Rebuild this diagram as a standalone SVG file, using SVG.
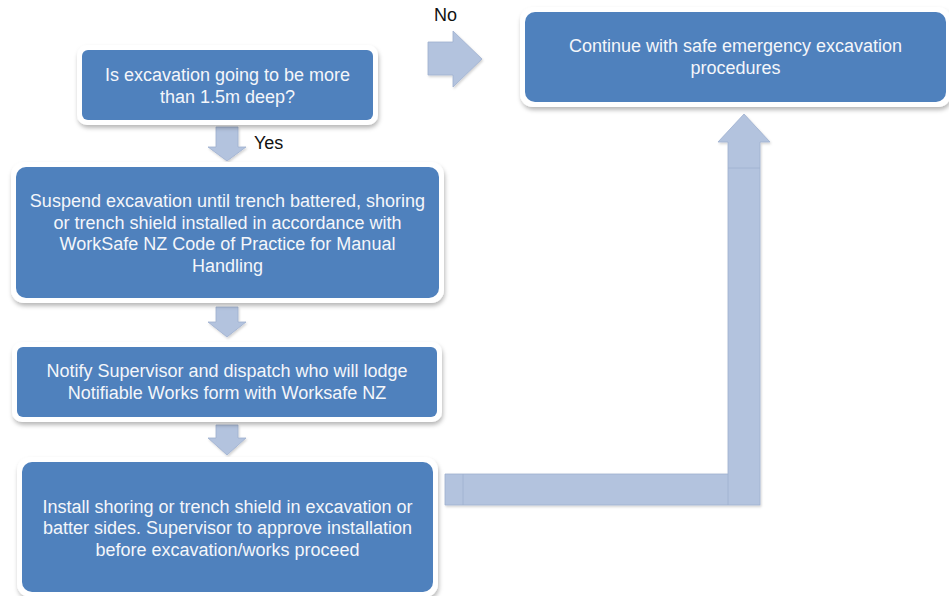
<svg xmlns="http://www.w3.org/2000/svg" width="949" height="596" viewBox="0 0 949 596">
  <style>
    .frame { fill: #ffffff; }
    .box { fill: #4f81bd; }
    .label { font-family: "Liberation Sans", Arial, sans-serif; font-size: 18px; fill: #f4f6fa; text-anchor: middle; }
    .note { font-family: "Liberation Sans", Arial, sans-serif; font-size: 18px; fill: #111111; }
    .arrow { fill: #b3c3de; stroke: #9eb0cf; stroke-width: 0.8; }
    .seam { stroke: #9eb0cf; stroke-width: 0.8; fill: none; }
  </style>
  <defs>
    <filter id="shadow" x="-10%" y="-20%" width="120%" height="150%">
      <feDropShadow dx="1" dy="3" stdDeviation="2.2" flood-color="#000000" flood-opacity="0.28"/>
    </filter>
    <filter id="softShadow" x="-10%" y="-10%" width="130%" height="130%">
      <feDropShadow dx="1" dy="1.5" stdDeviation="1.2" flood-color="#000000" flood-opacity="0.18"/>
    </filter>
  </defs>

  <rect width="949" height="596" fill="#ffffff"/>

  <!-- connectors -->
  <g id="connectors" filter="url(#softShadow)">
    <!-- No: right arrow -->
    <path class="arrow" d="M428,42 L453,42 L453,31 L482,59 L453,87 L453,75 L428,75 Z"/>
    <!-- Yes: down arrow -->
    <path class="arrow" d="M216,127 L238,127 L238,147 L246,147 L227,161 L208,147 L216,147 Z"/>
    <!-- suspend to notify -->
    <path class="arrow" d="M216,307 L238,307 L238,322 L246,322 L227,337 L208,322 L216,322 Z"/>
    <!-- notify to install -->
    <path class="arrow" d="M216,425 L238,425 L238,438 L246,438 L227,455 L208,438 L216,438 Z"/>
    <!-- install back up to continue -->
    <path class="arrow" d="M445,474 L728,474 L728,142 L718,142 L744,114 L770,142 L760,142 L760,505 L445,505 Z"/>
    <path class="seam" d="M728,474 L728,505 M728,168 L760,168 M463,474 L463,505"/>
  </g>
  <text class="note" x="434" y="21">No</text>
  <text class="note" x="254" y="149">Yes</text>

  <!-- depth question -->
  <g id="node-depth">
    <rect class="frame" x="77" y="45" width="301" height="80" rx="10" filter="url(#shadow)"/>
    <rect class="box" x="82" y="50" width="291" height="70" rx="6"/>
    <text class="label" x="227.5" y="81">Is excavation going to be more</text>
    <text class="label" x="227.5" y="103">than 1.5m deep?</text>
  </g>

  <!-- safe emergency excavation -->
  <g id="node-continue">
    <rect class="frame" x="520" y="7" width="431" height="100" rx="13" filter="url(#shadow)"/>
    <rect class="box" x="525" y="12" width="421" height="90" rx="10"/>
    <text class="label" x="735.5" y="52">Continue with safe emergency excavation</text>
    <text class="label" x="735.5" y="74">procedures</text>
  </g>

  <!-- suspend excavation -->
  <g id="node-suspend">
    <rect class="frame" x="11" y="162" width="433" height="141" rx="13" filter="url(#shadow)"/>
    <rect class="box" x="16" y="167" width="423" height="131" rx="10"/>
    <text class="label" x="227.5" y="207">Suspend excavation until trench battered, shoring</text>
    <text class="label" x="227.5" y="228.5">or trench shield installed in accordance with</text>
    <text class="label" x="227.5" y="250">WorkSafe NZ Code of Practice for Manual</text>
    <text class="label" x="227.5" y="271.5">Handling</text>
  </g>

  <!-- notify supervisor -->
  <g id="node-notify">
    <rect class="frame" x="12" y="342" width="430" height="80" rx="10" filter="url(#shadow)"/>
    <rect class="box" x="17" y="347" width="420" height="70" rx="6"/>
    <text class="label" x="227" y="377">Notify Supervisor and dispatch who will lodge</text>
    <text class="label" x="227" y="398.5">Notifiable Works form with Worksafe NZ</text>
  </g>

  <!-- install shoring -->
  <g id="node-install">
    <rect class="frame" x="17" y="457" width="421" height="140" rx="13" filter="url(#shadow)"/>
    <rect class="box" x="22" y="462" width="411" height="130" rx="10"/>
    <text class="label" x="227.5" y="512.5">Install shoring or trench shield in excavation or</text>
    <text class="label" x="227.5" y="534">batter sides. Supervisor to approve installation</text>
    <text class="label" x="227.5" y="555.5">before excavation/works proceed</text>
  </g>
</svg>
